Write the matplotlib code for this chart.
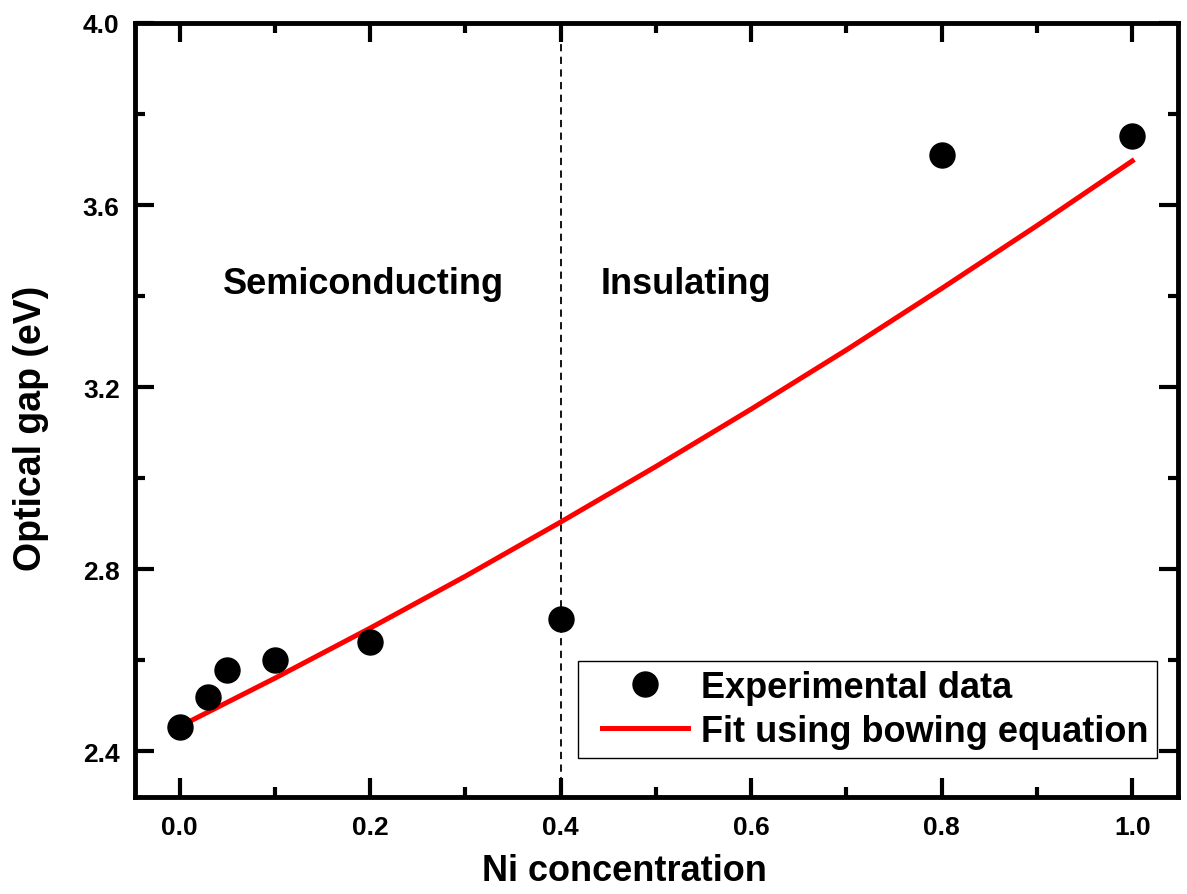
import numpy as np
import matplotlib.pyplot as plt
from matplotlib.lines import Line2D
from matplotlib.legend_handler import HandlerLine2D

plt.rcParams['font.family'] = ['Liberation Sans', 'DejaVu Sans']
plt.rcParams['font.weight'] = 'bold'

# Measured optical gaps
ni_conc = [0.0, 0.03, 0.05, 0.1, 0.2, 0.4, 0.8, 1.0]
gap_exp = [2.453, 2.52, 2.579, 2.60, 2.64, 2.69, 3.71, 3.752]

# Bowing-equation fit curve
fit_x = [0.0, 0.1, 0.2, 0.3, 0.4, 0.5, 0.6, 0.7, 0.8, 0.9, 1.0]
fit_y = [2.455, 2.561, 2.671, 2.785, 2.904, 3.026, 3.152, 3.282, 3.417, 3.555, 3.697]

x_ticks = [0.0, 0.2, 0.4, 0.6, 0.8, 1.0]
y_ticks = [2.4, 2.8, 3.2, 3.6, 4.0]
boundary = 0.4

fig = plt.figure(figsize=(11.87, 8.95), dpi=100)
ax = fig.add_axes([0.1137, 0.1084, 0.8787, 0.8648])

ax.axvline(boundary, color='black', linestyle=(0, (4, 3)), linewidth=1.3, zorder=1)
ax.plot(fit_x, fit_y, color='red', linewidth=3.6, zorder=2,
        label='Fit using bowing equation')
ax.plot(ni_conc, gap_exp, 'o', color='black', markersize=18, zorder=3,
        label='Experimental data')

ax.text(0.193, 3.428, 'Semiconducting', fontsize=26, fontweight='bold',
        ha='center', va='center')
ax.text(0.531, 3.428, 'Insulating', fontsize=26, fontweight='bold',
        ha='center', va='center')

ax.set_xlim(-0.047, 1.048)
ax.set_ylim(2.3, 4.0)
ax.set_xticks(x_ticks)
ax.set_yticks(y_ticks)
ax.set_xticklabels([f'{v:.1f}' for v in x_ticks])
ax.set_yticklabels([f'{v:.1f}' for v in y_ticks])
ax.set_xticks(np.arange(0.1, 1.0, 0.2), minor=True)
ax.set_yticks([2.6, 3.0, 3.4, 3.8], minor=True)

ax.tick_params(which='both', direction='in', top=True, right=True,
               width=3, labelsize=19)
ax.tick_params(axis='x', pad=13)
ax.tick_params(axis='y', pad=11)
ax.tick_params(which='major', length=14)
ax.tick_params(which='minor', length=7)
for s in ax.spines.values():
    s.set_linewidth(3.5)

ax.set_xlabel('Ni concentration', fontsize=26, fontweight='bold')
ax.set_ylabel('Optical gap (eV)', fontsize=27, fontweight='bold')
ax.xaxis.set_label_coords(0.469, -0.072)
ax.yaxis.set_label_coords(-0.082, 0.477)

# legend: data first, fit second, with some extra room left of the handles
handles, labels = ax.get_legend_handles_labels()
leg = ax.legend(handles[::-1], labels[::-1], loc='lower right',
                bbox_to_anchor=(0.980, 0.0504), borderaxespad=0,
                fancybox=False, framealpha=1, edgecolor='black',
                prop={'size': 26, 'weight': 'bold'},
                handlelength=2.8, borderpad=0.25, labelspacing=0.25,
                handletextpad=0.35,
                handler_map={Line2D: HandlerLine2D(xpad=0.42)})
leg.get_frame().set_linewidth(1)

fig.savefig('out.png', dpi=100)
